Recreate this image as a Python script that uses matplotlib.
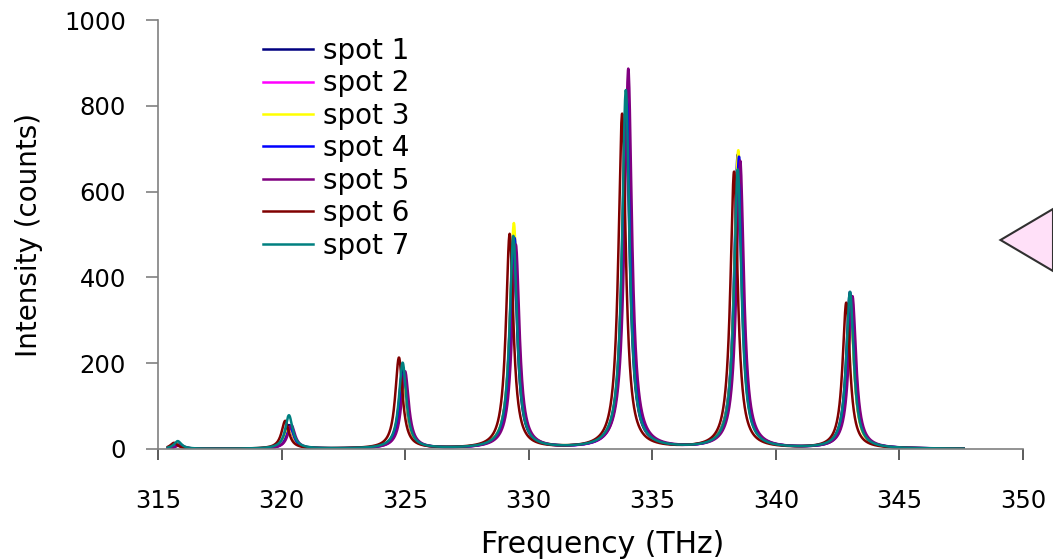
import numpy as np
import matplotlib
matplotlib.use("Agg")
import matplotlib.pyplot as plt
from matplotlib.patches import Polygon

plt.rcParams['font.family'] = ['DejaVu Sans']

# Mode frequencies (THz) of the comb lines
peak_centers = [315.8, 320.3, 324.9, 329.38, 333.93, 338.46, 343.0]

spot_names = ["spot 1", "spot 2", "spot 3", "spot 4", "spot 5", "spot 6", "spot 7"]
spot_colors = ["#000080", "#ff00ff", "#ffff00", "#0000ff", "#800080", "#800000", "#008080"]

# Small frequency offset of each spot relative to the mode frequencies (THz)
spot_shift = [0.0, 0.04, 0.02, 0.05, 0.10, -0.15, 0.0]

# Peak intensity (counts) of each spot at each mode
spot1_heights = [12, 55, 185, 480, 800, 685, 365]
spot2_heights = [10, 45, 160, 470, 780, 660, 340]
spot3_heights = [12, 50, 170, 525, 830, 695, 320]
spot4_heights = [10, 50, 175, 490, 820, 680, 330]
spot5_heights = [10, 55, 180, 475, 885, 670, 355]
spot6_heights = [14, 65, 212, 500, 780, 645, 340]
spot7_heights = [18, 78, 200, 495, 835, 650, 365]
spot_heights = [spot1_heights, spot2_heights, spot3_heights, spot4_heights,
                spot5_heights, spot6_heights, spot7_heights]

line_halfwidth = 0.18   # THz, Lorentzian half width
freq_start, freq_stop = 315.4, 347.6

freq = np.linspace(freq_start, freq_stop, 3000)

fig = plt.figure(figsize=(10.53, 5.59), dpi=100)
ax = fig.add_axes([0.150, 0.1968, 0.8215, 0.7672])

for name, color, shift, heights in zip(spot_names, spot_colors, spot_shift, spot_heights):
    spectrum = np.zeros_like(freq)
    for c, h in zip(peak_centers, heights):
        spectrum += h / (1.0 + ((freq - (c + shift)) / line_halfwidth) ** 2)
    ax.plot(freq, spectrum, color=color, lw=1.8, label=name)

ax.set_xlim(315, 350)
ax.set_ylim(0, 1000)
ax.set_xticks(np.arange(315, 351, 5))
ax.set_yticks(np.arange(0, 1001, 200))

for s in ("top", "right"):
    ax.spines[s].set_visible(False)
for s in ("left", "bottom"):
    ax.spines[s].set_color("#808080")
    ax.spines[s].set_linewidth(1.2)

ax.tick_params(axis="x", direction="out", length=8, width=1.2, color="#404040",
               labelsize=17.5, pad=21)
ax.tick_params(axis="y", direction="out", length=9, width=1.2, color="#808080",
               labelsize=17.5, pad=14)

ax.set_xlabel("Frequency (THz)", fontsize=21.5)
ax.xaxis.set_label_coords(0.514, -0.223, transform=ax.transAxes)
ax.xaxis.label.set_verticalalignment("center")
ax.set_ylabel("Intensity (counts)", fontsize=20, labelpad=15)

leg = ax.legend(loc="upper left", bbox_to_anchor=(0.121, 0.961), frameon=False,
                fontsize=20, handlelength=1.8, handletextpad=0.36,
                labelspacing=0.16, borderaxespad=0, borderpad=0)
for h in leg.get_lines():
    h.set_linewidth(1.8)

# Pointer shape at the right edge
tri = Polygon([[1000.5 / 1053, 1 - 240 / 559], [1053 / 1053, 1 - 209 / 559],
               [1053 / 1053, 1 - 271 / 559]], closed=True, transform=fig.transFigure,
              facecolor="#ffe0f8", edgecolor="#303030", lw=1.5, clip_on=False)
fig.patches.append(tri)

fig.savefig("out.png", dpi=100)
